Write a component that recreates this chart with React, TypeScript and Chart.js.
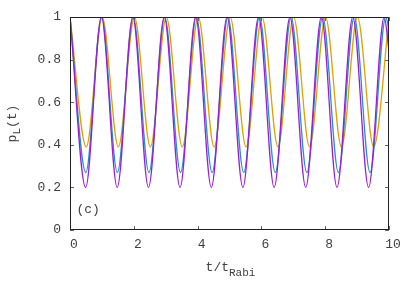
import React, { useEffect, useRef } from "react";
import { Chart, registerables } from "chart.js";
Chart.register(...registerables);

// Extrema (times, values), plus the value at t = 10
const purpleT = [0, 0.49, 0.985, 1.48, 1.97, 2.46, 2.955, 3.45, 3.94, 4.43, 4.925, 5.42, 5.91, 6.40, 6.895, 7.39, 7.88, 8.37, 8.865, 9.36, 9.85, 10];
const purpleP = [1, 0.2, 1, 0.2, 1, 0.2, 1, 0.2, 1, 0.2, 1, 0.2, 1, 0.2, 1, 0.2, 1, 0.2, 1, 0.2, 1, 0.84];
const tealT = [0, 0.495, 0.99, 1.485, 1.98, 2.475, 2.97, 3.465, 3.96, 4.455, 4.95, 5.445, 5.94, 6.435, 6.93, 7.425, 7.92, 8.415, 8.91, 9.405, 9.9, 10];
const tealP = [1, 0.27, 1, 0.27, 1, 0.27, 1, 0.27, 1, 0.27, 1, 0.27, 1, 0.27, 1, 0.27, 1, 0.27, 1, 0.27, 1, 0.94];
const orangeT = [0, 0.51, 1.01, 1.515, 2.02, 2.52, 3.02, 3.52, 4.02, 4.52, 5.02, 5.52, 6.02, 6.52, 7.01, 7.51, 8.01, 8.51, 9.01, 9.52, 10];
const orangeP = [1, 0.39, 1, 0.39, 1, 0.39, 1, 0.39, 1, 0.39, 1, 0.39, 1, 0.39, 1, 0.39, 1, 0.39, 1, 0.39, 0.99];

const xTicks = [0, 2, 4, 6, 8, 10];
const xTickLabels = ["0", "2", "4", "6", "8", "10"];
const yTicks = [0, 0.2, 0.4, 0.6, 0.8, 1];
const yTickLabels = ["0", "0.2", "0.4", "0.6", "0.8", "1"];

const toPts = (t: number[], p: number[]) => t.map((x, i) => ({ x, y: p[i] }));

const MONO = '"Liberation Mono", "DejaVu Sans Mono", monospace';

const decor = {
  id: "gnuplotDecor",
  afterDraw(chart: any) {
    const { ctx, chartArea: a, scales } = chart;
    const xs = scales.x, ys = scales.y;
    ctx.save();
    // ticks (inward, all four sides)
    ctx.strokeStyle = "#666";
    ctx.lineWidth = 1;
    ctx.beginPath();
    xTicks.forEach((v) => {
      const px = Math.round(xs.getPixelForValue(v)) + 0.5;
      ctx.moveTo(px, a.bottom); ctx.lineTo(px, a.bottom - 4);
      ctx.moveTo(px, a.top); ctx.lineTo(px, a.top + 4);
    });
    yTicks.forEach((v) => {
      const py = Math.round(ys.getPixelForValue(v)) + 0.5;
      ctx.moveTo(a.left, py); ctx.lineTo(a.left + 4, py);
      ctx.moveTo(a.right, py); ctx.lineTo(a.right - 4, py);
    });
    ctx.stroke();
    // border
    ctx.strokeStyle = "#222";
    ctx.lineWidth = 1;
    ctx.strokeRect(Math.round(a.left) + 0.5, Math.round(a.top) + 0.5, Math.round(a.right - a.left) - 1, Math.round(a.bottom - a.top) - 1);
    // tick labels
    ctx.fillStyle = "#404040";
    ctx.font = "13px " + MONO;
    ctx.textBaseline = "middle";
    ctx.textAlign = "right";
    yTicks.forEach((v, i) => {
      ctx.fillText(yTickLabels[i], a.left - 9, ys.getPixelForValue(v));
    });
    ctx.textAlign = "center";
    xTicks.forEach((v, i) => {
      ctx.fillText(xTickLabels[i], xs.getPixelForValue(v) + 4, a.bottom + 15);
    });
    // x title: t/t_Rabi
    const cx = (a.left + a.right) / 2 + 1;
    ctx.textAlign = "left";
    ctx.font = "13px " + MONO;
    const main = "t/t";
    const mw = ctx.measureText(main).width;
    ctx.font = "11px " + MONO;
    const sub = "Rabi";
    const sw = ctx.measureText(sub).width;
    const x0 = cx - (mw + sw) / 2;
    ctx.font = "13px " + MONO;
    ctx.fillText(main, x0, a.bottom + 38);
    ctx.font = "11px " + MONO;
    ctx.fillText(sub, x0 + mw, a.bottom + 43);
    // y title: p_L(t)
    ctx.save();
    ctx.translate(13, (a.top + a.bottom) / 2);
    ctx.rotate(-Math.PI / 2);
    ctx.font = "13px " + MONO;
    const p1 = "p", p3 = "(t)";
    const w1 = ctx.measureText(p1).width;
    const w3 = ctx.measureText(p3).width;
    ctx.font = "11px " + MONO;
    const w2 = ctx.measureText("L").width;
    const sx = -(w1 + w2 + w3) / 2;
    ctx.font = "13px " + MONO;
    ctx.fillText(p1, sx, 0);
    ctx.font = "11px " + MONO;
    ctx.fillText("L", sx + w1, 4);
    ctx.font = "13px " + MONO;
    ctx.fillText(p3, sx + w1 + w2, 0);
    ctx.restore();
    // panel label
    ctx.font = "13px " + MONO;
    ctx.textAlign = "left";
    ctx.fillText("(c)", xs.getPixelForValue(0.2), ys.getPixelForValue(0.095));
    ctx.restore();
  },
};

export default function App() {
  const ref = useRef<HTMLCanvasElement>(null);
  useEffect(() => {
    document.body.style.margin = "0";
    const ds = (label: string, t: number[], p: number[], color: string) => ({
      label,
      data: toPts(t, p),
      borderColor: color,
      backgroundColor: color,
      borderWidth: 1.3,
      pointRadius: 0,
      fill: false,
      cubicInterpolationMode: "monotone" as const,
    });
    const chart = new Chart(ref.current!, {
      type: "line",
      data: {
        datasets: [
          ds("purple", purpleT, purpleP, "#9a1ed8"),
          ds("teal", tealT, tealP, "#2a90c8"),
          ds("orange", orangeT, orangeP, "#e69f00"),
        ],
      },
      options: {
        animation: false,
        responsive: false,
        parsing: false as any,
        layout: { padding: { left: 70, right: 26, top: 17, bottom: 61 } },
        plugins: { legend: { display: false }, tooltip: { enabled: false } },
        scales: {
          x: { type: "linear", min: 0, max: 10, display: false },
          y: { type: "linear", min: 0, max: 1, display: false },
        },
      },
      plugins: [decor],
    });
    return () => chart.destroy();
  }, []);
  return (
    <div style={{ position: "absolute", left: 0, top: 0, width: 415, height: 291, background: "#fff" }}>
      <canvas ref={ref} width={415} height={291} style={{ width: 415, height: 291 }} />
    </div>
  );
}
